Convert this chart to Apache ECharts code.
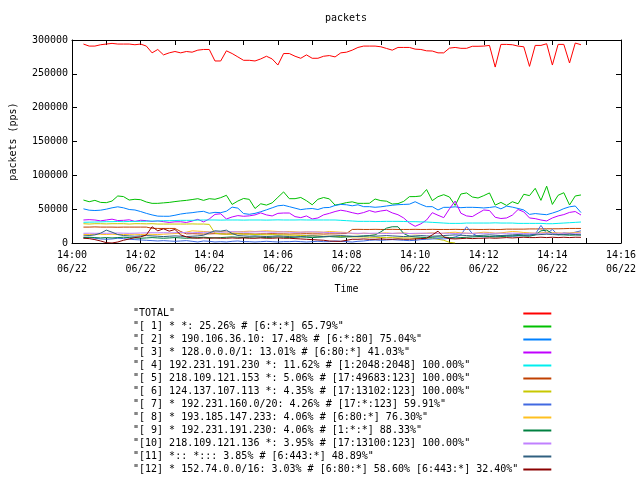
<!DOCTYPE html>
<html><head><meta charset="utf-8">
<script src="https://cdn.jsdelivr.net/npm/echarts@6/dist/echarts.min.js"></script>
<style>html,body{margin:0;padding:0;background:#fff}#c{width:640px;height:480px}</style>
</head><body><div id="c"></div>
<script>
// sampling: first sample 14:00:20, one sample every 10 s
const startSec = 20, stepSec = 10;
const xTickLabels = ['14:00','14:02','14:04','14:06','14:08','14:10','14:12','14:14','14:16'];
const dateLabel = '06/22';

const seriesNames = [
  '"TOTAL"',
  '"[ 1] * *: 25.26% # [6:*:*] 65.79%"',
  '"[ 2] * 190.106.36.10: 17.48% # [6:*:80] 75.04%"',
  '"[ 3] * 128.0.0.0/1: 13.01% # [6:80:*] 41.03%"',
  '"[ 4] 192.231.191.230 *: 11.62% # [1:2048:2048] 100.00%"',
  '"[ 5] 218.109.121.153 *: 5.06% # [17:49683:123] 100.00%"',
  '"[ 6] 124.137.107.113 *: 4.35% # [17:13102:123] 100.00%"',
  '"[ 7] * 192.231.160.0/20: 4.26% # [17:*:123] 59.91%"',
  '"[ 8] * 193.185.147.233: 4.06% # [6:80:*] 76.30%"',
  '"[ 9] * 192.231.191.230: 4.06% # [1:*:*] 88.33%"',
  '"[10] 218.109.121.136 *: 3.95% # [17:13100:123] 100.00%"',
  '"[11] *:: *::: 3.85% # [6:443:*] 48.89%"',
  '"[12] * 152.74.0.0/16: 3.03% # [6:80:*] 58.60% [6:443:*] 32.40%"'
];
const colors = ['#ff0000','#00c000','#0080ff','#c000ff','#00eeee','#c04000','#c8c800',
                '#4169e1','#ffc020','#008040','#c080ff','#306080','#8b0000'];

const total = [294000,291000,291000,293000,294000,295000,294000,294000,294000,293000,
 294000,291000,281000,286000,278000,281000,283000,281000,283000,282000,
 285000,286000,286000,269000,269000,284000,280000,275000,270000,270000,
 269000,272000,276000,272000,263000,280000,280000,276000,273000,278000,
 273000,273000,276000,277000,275000,281000,282000,285000,289000,291000,
 291000,291000,290000,287500,285000,289000,289000,289000,286500,286000,
 284000,283700,281000,281000,288000,289000,287700,287700,290700,290700,
 291000,292000,260000,293500,293500,293000,291000,290000,261000,292000,
 292000,294500,263000,293500,293500,266000,295500,293000];
const s1 = [63500,61000,63000,60000,59600,62000,69500,68600,63500,64600,
 64000,60600,58600,58600,59300,60000,61200,62200,63000,64200,
 65500,63000,65500,64600,67000,70500,57000,62000,65800,64500,
 51000,58000,56000,59300,67500,75500,65500,65500,67300,62500,
 56500,64600,67200,65200,56000,57600,59700,60800,58600,58600,
 58700,65000,62600,61800,57600,58200,61500,68500,68600,69500,
 79000,62600,68500,71400,68000,55500,72400,74000,68000,66500,
 70000,74000,56000,60000,55500,61000,58000,72000,70000,80800,
 63000,84000,57000,70500,74300,56200,69500,71000];
const s2 = [50500,48500,48000,48500,50000,52000,53500,52000,49500,48800,
 46500,43800,41500,39700,39500,39500,41000,42800,44000,44800,
 46000,46800,43900,45300,44800,47000,53000,51500,43500,42400,
 43800,46200,49000,52000,55000,55800,53700,51500,49300,50500,
 51000,49500,52200,52500,55500,57000,56500,55000,56500,53700,
 53700,52800,53500,54700,55800,56600,57000,57400,61000,57000,
 53700,53700,48800,52700,52700,53500,52200,52700,52700,52400,
 51800,52500,53700,50500,54500,53000,51000,48800,42300,43500,
 42600,41800,44200,47000,50800,53500,54700,45000];
const s3 = [34000,34500,34000,32700,34000,35200,33200,33500,34300,31900,
 33600,33000,31800,32700,31500,30400,31300,31400,30300,32400,
 35000,31200,35500,42300,43200,35500,38500,40500,39500,40100,
 41500,44500,41500,40000,43800,44300,44300,39000,37500,40000,
 35500,37000,41600,43800,46500,48500,47000,44800,43000,45000,
 48000,45600,47300,48500,44500,41800,37000,29500,24700,28300,
 34000,44800,41000,37500,50500,62000,44000,40000,39000,44000,
 48800,48000,38000,36200,37000,41200,49500,46000,37000,36000,
 34000,32600,37000,40000,42000,45200,46500,41400];
const s4 = [30600,30800,31000,31200,31500,31500,31800,31500,31800,32000,
 32000,32200,32500,32500,33000,33000,33200,33500,33500,33500,
 33800,34000,34000,34000,33800,34000,34000,34000,33800,34000,
 34000,34000,33800,34000,34200,34000,34000,34000,34200,34000,
 34000,34000,34000,34000,34000,33500,33000,32500,32000,32000,
 32000,31800,31800,32000,32000,32000,31800,31500,31500,31200,
 31000,30500,30000,29500,29000,29000,29000,29500,29500,29500,
 29500,29500,29800,29500,29500,29500,29000,29000,29000,29000,
 29000,28500,28500,29000,29500,30000,30500,31000];
const s5 = [23500,23500,23800,23500,23500,23500,23300,23500,23500,23500,
 23500,23500,21800,21500,21500,21500,21500,17000,13500,13800,
 13500,13200,13500,13800,13500,13300,13500,13800,13500,13500,
 13200,13500,13500,13800,13500,13500,13200,13500,13500,13800,
 13500,13500,13200,13500,13500,13800,14000,20000,20200,20000,
 20000,20200,20000,20000,20200,20000,20000,20000,20200,20000,
 20000,20200,20000,20000,20000,20200,20000,20000,20200,20000,
 20000,20200,20000,20000,20500,20500,20500,20500,20800,20800,
 20800,21000,21000,21000,21200,21500,21500,21500];
const s6 = [28500,28000,28500,28500,28200,28500,28500,28500,28000,28500,
 28500,28300,28500,28000,28000,28000,28000,28000,28000,28200,
 28000,28000,27500,14500,13500,13000,13000,13500,13000,13000,
 12500,12500,12000,12500,12000,12000,11500,11500,11000,11000,
 10500,10500,10000,10000,10000,9500,9500,9000,9000,9000,
 8500,8500,8000,8000,8000,7500,7500,7500,7000,7000,
 7000,7000,5500,4000,1000,0,null,null,null,null,
 null,null,null,null,null,null,null,null,null,null,
 null,null,null,null,null,null,null,null];
const s7 = [7500,8000,7000,6000,5500,6000,7000,6500,5500,5000,
 4500,4000,3500,3000,3500,3000,2500,3000,3500,2500,
 1500,3000,2500,1500,2000,1500,2500,3000,2000,2000,
 1500,2000,2500,2000,1500,2000,2000,2500,2000,1500,
 2000,2500,2000,2000,3000,2500,2000,1500,2500,3000,
 4000,4500,4000,4500,5000,4500,4000,3500,4000,5000,
 5500,6000,6500,6000,7000,9000,12000,24000,14000,10000,
 9000,9500,10000,10500,11000,10000,10500,11000,12000,13000,
 26000,14000,20000,12000,15000,14000,16000,18000];
const s8 = [12500,12500,13000,12800,12500,13000,12500,12500,12800,13000,
 12500,13000,12800,12500,13000,13500,14000,14500,16000,18000,
 17500,17000,16500,16000,17000,16500,16000,16500,17000,17500,
 17000,17500,18000,17500,17000,16500,17000,16500,16000,16500,
 16000,16500,16000,17000,16500,16000,15500,14000,13500,14500,
 14000,13500,14500,15000,14000,14500,15000,14000,13500,14000,
 14500,15000,14000,14500,15500,16000,15000,14500,14000,15000,
 16000,15500,14500,15000,16000,17000,16500,15500,15000,14500,
 15000,16000,15500,15000,14500,15000,15500,16000];
const s9 = [8000,8500,8000,7500,8000,7500,8000,8500,8000,7500,
 7000,7500,8000,7500,7000,7500,8000,7500,7000,7500,
 8000,8500,8000,7500,8000,8500,9000,8500,8000,8500,
 9000,8500,8000,8500,9000,8500,8000,8500,9000,8500,
 8000,8500,9000,9500,9000,8500,9000,9500,10000,10500,
 11000,12000,16500,22000,24000,24000,14000,10000,9000,8500,
 8000,8500,9000,8500,8000,7500,8000,8500,9000,9500,
 10000,9500,9000,9500,10000,10500,11000,10500,10000,12000,
 18000,19000,14000,12500,12000,11500,11800,11800];
const s10 = [14300,14500,14300,14500,14300,14500,14800,14500,14300,14500,
 14800,15000,15200,15000,15200,15000,15200,15500,15200,15000,
 15500,15800,16000,16500,16000,16300,16700,16500,16000,16200,
 16500,16700,16500,16000,16200,16500,16000,15800,16000,16200,
 16500,16000,15800,15500,15200,15000,14800,14500,14300,14500,
 14300,14500,14300,14000,14300,14500,14300,14000,14300,14500,
 14300,14500,14300,14500,14300,14000,14300,14500,14300,14500,
 14300,14500,14300,14500,14300,14500,14300,14000,14300,14500,
 14300,14500,14300,14500,14300,14500,14300,14500];
const s11 = [10500,11000,12000,14500,19000,16000,12500,11000,10500,10000,
 10500,11000,10500,10000,9500,10000,10500,10000,9500,10000,
 10500,11500,15000,18000,17500,19000,14000,11000,10500,10000,
 10500,10000,9500,10000,10500,10000,9500,9000,9500,10000,
 10500,10000,9500,10000,10500,11000,10500,10000,9500,10000,
 10500,10000,10500,11000,10500,10000,9500,10000,10500,11000,
 10500,10000,10500,11000,11500,12000,11500,11000,10500,11000,
 11500,12000,11500,11000,11500,12000,12500,12000,11500,12000,
 12500,13000,12500,12000,12500,13000,12500,12000];
const s12 = [7000,6500,5000,3000,500,0,1500,4000,6000,8000,
 9000,12000,24000,18000,21000,17500,20000,12000,9000,7500,
 7000,7500,7000,7500,7000,7000,7500,7000,7500,7000,
 7000,7500,7000,7000,7500,7000,7000,6500,6000,5500,
 5000,4500,4000,3000,2500,2500,4000,5500,5500,6000,
 5500,5500,6000,5500,5500,6000,5500,5500,6000,6500,
 7000,12000,17500,9000,6500,6000,6500,7000,6500,7000,
 7000,7500,7000,7500,8000,7500,8000,8500,8000,8000,
 8500,8000,8500,8000,8500,8000,8500,8400];

const allValues = [total,s1,s2,s3,s4,s5,s6,s7,s8,s9,s10,s11,s12];
const FONT = '"DejaVu Sans Mono", "Liberation Mono", monospace';
const xs = total.map((_, i) => (startSec + i * stepSec) / 60); // minutes after 14:00

const series = seriesNames.map((n, j) => ({
  name: n, type: 'line', symbol: 'none', showSymbol: false,
  xAxisIndex: 0, yAxisIndex: 0,
  data: allValues[j].map((v, i) => [xs[i], v]),
  lineStyle: { width: 1, color: colors[j] },
  itemStyle: { color: colors[j] },
  emphasis: { disabled: true },
  animation: false
}));

const lineSty = { show: true, onZero: false, lineStyle: { color: '#000', width: 1 } };
const tickSty = { show: true, inside: true, length: 5, lineStyle: { color: '#000' } };
const axisCommonX = {
  type: 'value', min: 0, max: 16, interval: 1,
  axisLine: lineSty, axisTick: tickSty, splitLine: { show: false }
};
const axisCommonY = {
  type: 'value', min: 0, max: 300000, interval: 50000,
  axisLine: lineSty, axisTick: tickSty, splitLine: { show: false }
};

const chart = echarts.init(document.getElementById('c'), null, { renderer: 'canvas' });
chart.setOption({
  animation: false,
  backgroundColor: '#fff',
  title: {
    text: 'packets', left: 325, top: 13, padding: 0,
    textStyle: { fontFamily: FONT, fontSize: 10, fontWeight: 'normal', color: '#000' }
  },
  grid: { left: 70, right: 19, top: 40, bottom: 237, containLabel: false },
  legend: {
    orient: 'vertical', left: 133, top: 307, padding: 0, itemGap: 0,
    itemWidth: 28, itemHeight: 8, align: 'right',
    selectedMode: false,
    data: seriesNames,
    itemStyle: { opacity: 0 },
    formatter: n => n.padEnd(64, ' '),
    textStyle: { fontFamily: FONT, fontSize: 10, color: '#000', lineHeight: 13 }
  },
  xAxis: [
    Object.assign({}, axisCommonX, {
      position: 'bottom',
      name: 'Time', nameLocation: 'middle', nameGap: 41,
      nameTextStyle: { fontFamily: FONT, fontSize: 10, color: '#000' },
      axisLabel: {
        show: true, margin: 5, fontFamily: FONT, fontSize: 10, color: '#000', lineHeight: 14,
        showMinLabel: true, showMaxLabel: true, hideOverlap: false,
        formatter: v => (Math.round(v) % 2 === 0) ? xTickLabels[Math.round(v) / 2] + '\n' + dateLabel : ''
      }
    }),
    Object.assign({}, axisCommonX, { position: 'top', axisLabel: { show: false } })
  ],
  yAxis: [
    Object.assign({}, axisCommonY, {
      position: 'left',
      name: 'packets (pps)', nameLocation: 'middle', nameRotate: 90, nameGap: 54,
      nameTextStyle: { fontFamily: FONT, fontSize: 10, color: '#000' },
      axisLabel: { show: true, margin: 4, fontFamily: FONT, fontSize: 10, color: '#000',
                   formatter: v => String(v) }
    }),
    Object.assign({}, axisCommonY, { position: 'right', axisLabel: { show: false } })
  ],
  series: series
});
</script>
</body></html>
